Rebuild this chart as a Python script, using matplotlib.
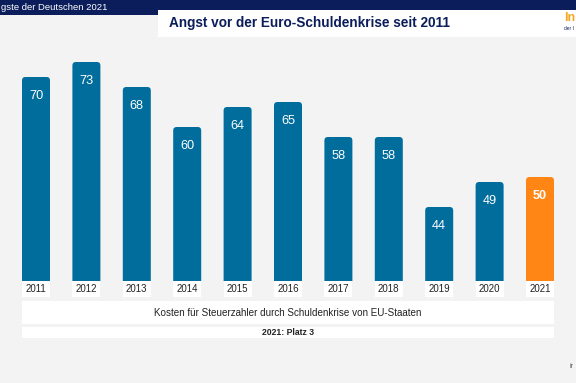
import matplotlib
matplotlib.use("Agg")
import matplotlib.pyplot as plt
from matplotlib.patches import FancyBboxPatch, Rectangle

plt.rcParams['font.family'] = ['Liberation Sans', 'DejaVu Sans']

years = ["2011", "2012", "2013", "2014", "2015", "2016", "2017", "2018", "2019", "2020", "2021"]
values = [70, 73, 68, 60, 64, 65, 58, 58, 44, 49, 50]
highlight = "2021"

title = "Angst vor der Euro-Schuldenkrise seit 2011"
header_left = "gste der Deutschen 2021"
subtitle = "Kosten für Steuerzahler durch Schuldenkrise von EU-Staaten"
rank_text = "2021: Platz 3"

BLUE = "#006d9c"
ORANGE = "#ff8614"
NAVY = "#0b1d5a"
BG = "#f3f3f3"

W, H = 576, 383
fig = plt.figure(figsize=(W / 100, H / 100), dpi=100)
fig.patch.set_facecolor(BG)

def fx(px):
    return px / W

def fy(py):
    return 1 - py / H

# header band
fig.add_artist(Rectangle((0, fy(15)), 1, 15 / H, transform=fig.transFigure, color=NAVY, lw=0))
fig.add_artist(Rectangle((fx(158), fy(37)), 1 - fx(158), 27 / H, transform=fig.transFigure,
                         color="white", lw=0))
fig.text(fx(1), fy(8), header_left, color="white", fontsize=6.8, va="center", ha="left")
fig.text(fx(169), fy(23.5), title, color=NAVY, fontsize=9.8, fontweight="bold", va="center", ha="left")
fig.text(fx(564), fy(18), "In", color="#f5a623", fontsize=9, fontweight="bold", va="center", ha="left")
fig.text(fx(564), fy(28), "der I", color=NAVY, fontsize=3.5, va="center", ha="left")
fig.text(fx(569), fy(366), "ir", color="#555555", fontsize=5, va="center", ha="left")

# chart axes
ax_bottom_px, ax_top_px = 281, 50
ax = fig.add_axes([0, fy(ax_bottom_px), 1, (ax_bottom_px - ax_top_px) / H])
ax.set_facecolor("none")
x = list(range(len(years)))
spacing = 50.4
xlo = -36 / spacing
xhi = (W - 36) / spacing
ax.set_xlim(xlo, xhi)
ymin = 29.2
ymax = ymin + (ax_bottom_px - ax_top_px) / 5.0
ax.set_ylim(ymin, ymax)
ax.axis("off")

bw = 28 / spacing
colors = [ORANGE if y == highlight else BLUE for y in years]
bars = ax.bar(x, values, width=bw, color=colors)
r_x = 3.5 / spacing
r_y = 3.5 / 5.0
for rect, c, yr, v in zip(bars, colors, years, values):
    rect.set_visible(False)
    p = FancyBboxPatch((rect.get_x(), rect.get_y()), rect.get_width(), rect.get_height(),
                       boxstyle=f"round,pad=0,rounding_size={r_x}",
                       mutation_aspect=r_y / r_x, facecolor=c, edgecolor="none")
    ax.add_patch(p)
    cx = rect.get_x() + rect.get_width() / 2
    ax.annotate(str(v), (cx, v), xytext=(0, -14), textcoords="offset points",
                ha="center", va="center", color="white", fontsize=9.2,
                fontweight="bold" if yr == highlight else "normal")
    # year label box
    ax.add_patch(Rectangle((rect.get_x(), -16 / 231), rect.get_width(), 16 / 231,
                           transform=ax.get_xaxis_transform(), facecolor="white",
                           edgecolor="none", clip_on=False))
    ax.text(cx, -8.5 / 231, yr, transform=ax.get_xaxis_transform(), ha="center", va="center",
            fontsize=7, color="#222222", clip_on=False)

# subtitle boxes
fig.add_artist(Rectangle((fx(22), fy(324)), fx(554 - 22), 23 / H, transform=fig.transFigure,
                         color="white", lw=0))
fig.text(fx(288), fy(312.5), subtitle, ha="center", va="center", fontsize=7.1, color="#222222")
fig.add_artist(Rectangle((fx(22), fy(338)), fx(554 - 22), 11 / H, transform=fig.transFigure,
                         color="white", lw=0))
fig.text(fx(288), fy(332.5), rank_text, ha="center", va="center", fontsize=6.2,
         fontweight="bold", color="#222222")

fig.savefig("out.png", dpi=100, facecolor=BG)
